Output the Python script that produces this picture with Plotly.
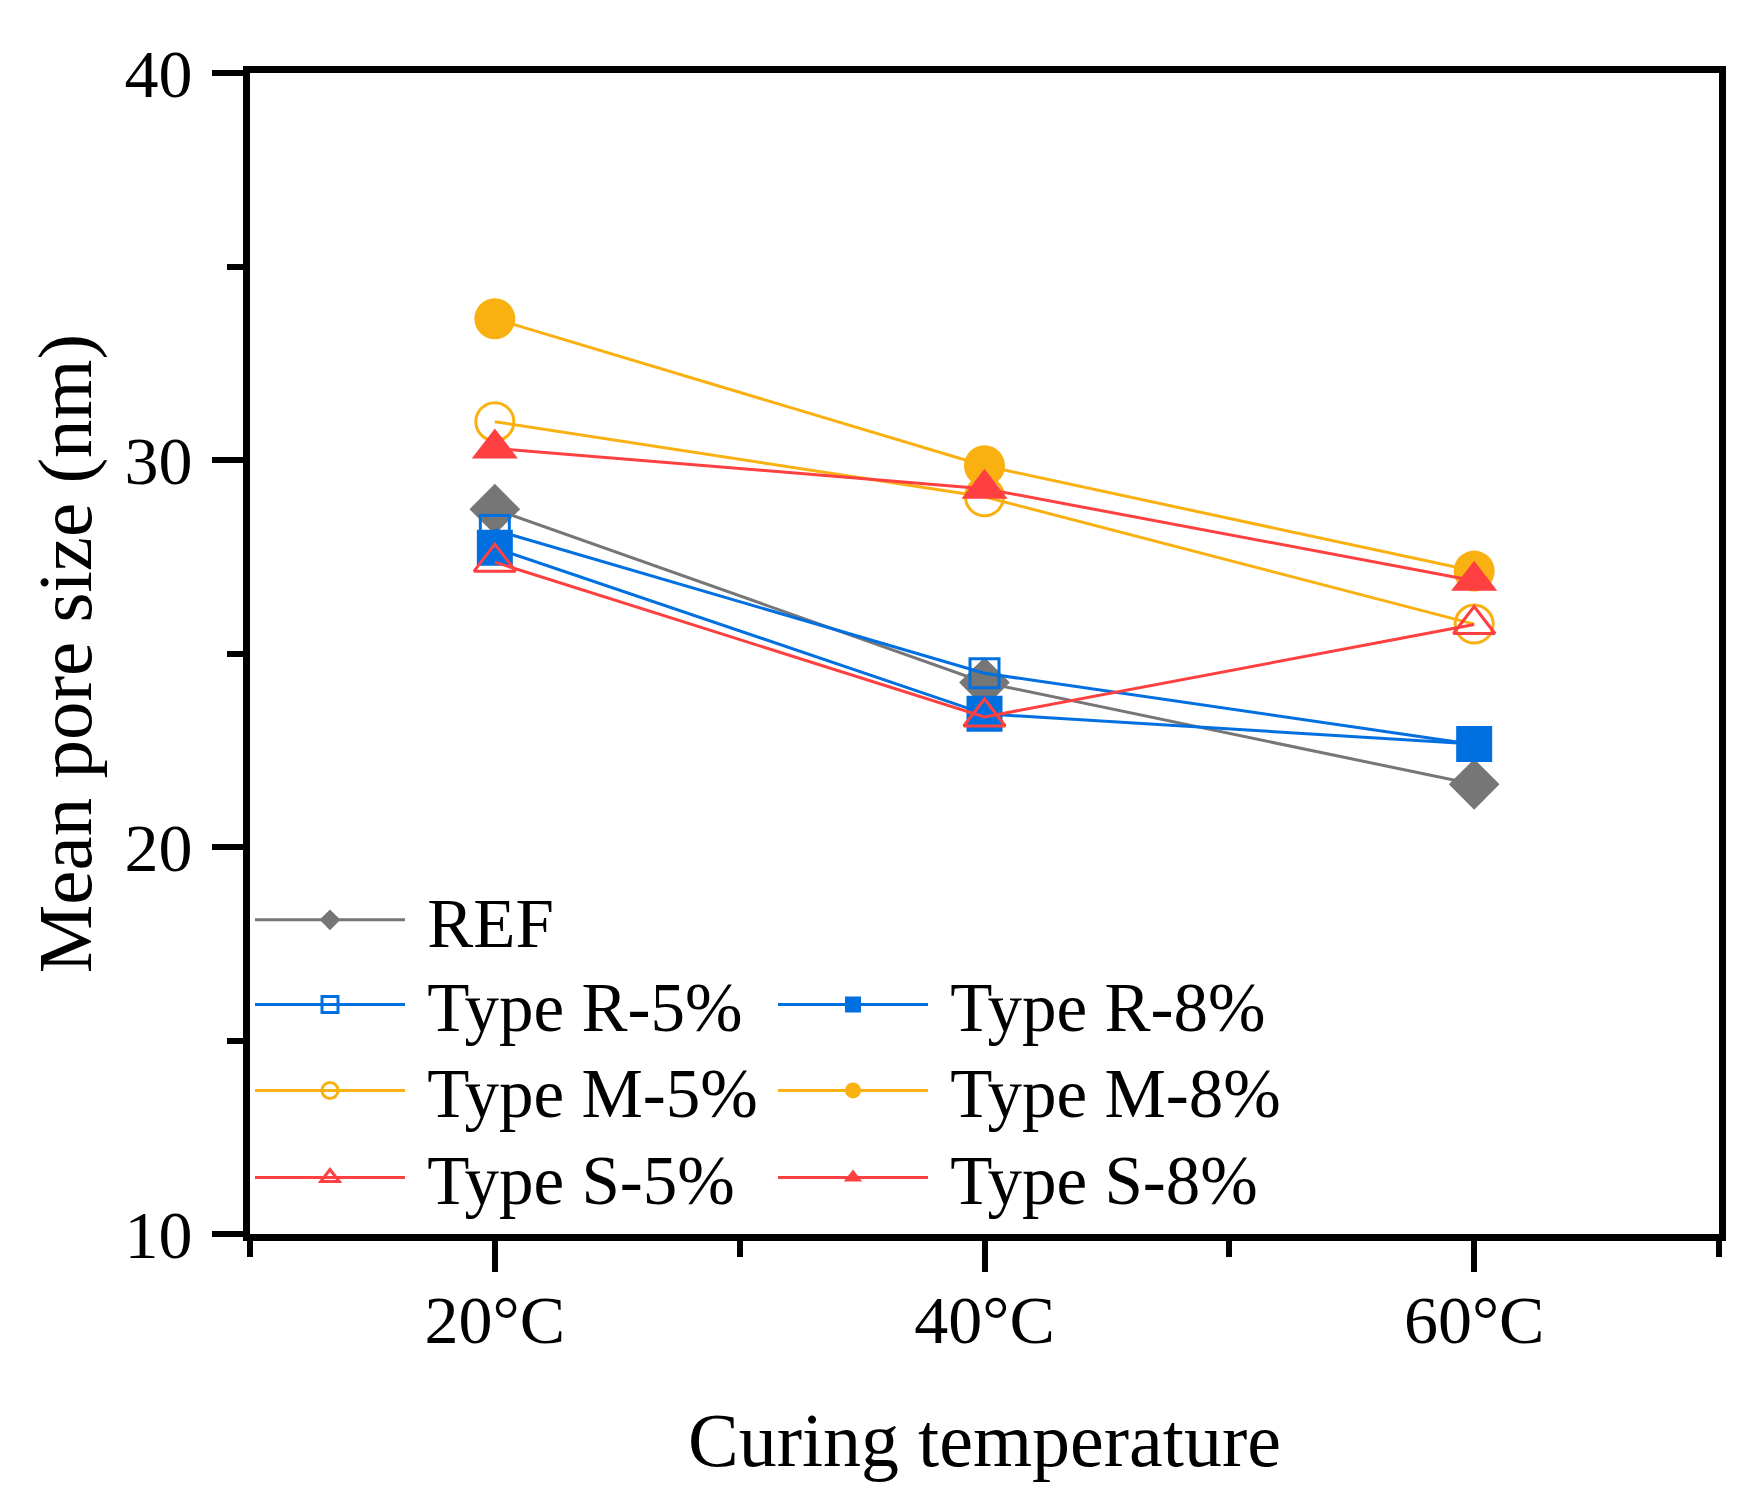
import plotly.graph_objects as go

# curing temperature (°C) and mean pore size (nm)
temps = [20, 40, 60]
temp_labels = ["20°C", "40°C", "60°C"]

ref = [28.73, 24.25, 21.62]
r_5 = [28.19, 24.49, 22.65]
r_8 = [27.73, 23.44, 22.66]
m_5 = [30.99, 29.05, 25.76]
m_8 = [33.65, 29.85, 27.13]
s_5 = [27.36, 23.36, 25.75]
s_8 = [30.30, 29.26, 26.88]

GRAY = "#767676"
BLUE = "#0070e0"
YELLOW = "#f9b011"
RED = "#ff4040"
FONT = "Liberation Serif"
NB = "\u00a0"  # small gap between legend line and text

fig = go.Figure()


def add(name, y, color, symbol, size, legend):
    hollow = symbol.endswith("-open")
    fig.add_trace(go.Scatter(
        x=temps, y=y, name=NB + name, mode="lines+markers",
        line=dict(color=color, width=3),
        marker=dict(symbol=symbol, size=size, color=color,
                    line=dict(color=color, width=3 if hollow else 0)),
        legend=legend, showlegend=True,
    ))


# one legend per row, two columns
add("REF", ref, GRAY, "diamond", 39, "legend")
add("Type R-5%", r_5, BLUE, "square-open", 29, "legend2")
add("Type R-8%", r_8, BLUE, "square", 36, "legend2")
add("Type M-5%", m_5, YELLOW, "circle-open", 38, "legend3")
add("Type M-8%", m_8, YELLOW, "circle", 41, "legend3")
add("Type S-5%", s_5, RED, "triangle-up-open", 36, "legend4")
add("Type S-8%", s_8, RED, "triangle-up", 40, "legend4")

leg = dict(font=dict(family=FONT, size=69, color="black"), bgcolor="rgba(0,0,0,0)",
           itemwidth=150, itemsizing="trace", orientation="h", entrywidth=358,
           x=0.0, xanchor="left", yanchor="middle", visible=True)

fig.update_layout(
    width=1764, height=1502,
    margin=dict(l=242, r=53, t=65, b=276),
    plot_bgcolor="white", paper_bgcolor="white",
    font=dict(family=FONT, color="black"),
    showlegend=True,
    legend=dict(**leg, y=0.2705),
    legend2=dict(**leg, y=0.1975),
    legend3=dict(**leg, y=0.1235),
    legend4=dict(**leg, y=0.0485),
)

fig.update_xaxes(
    range=[10, 70], tickvals=temps, ticktext=temp_labels,
    showline=True, linewidth=7, linecolor="black", mirror=True,
    showgrid=False, zeroline=False,
    ticks="outside", ticklen=31, tickwidth=6, tickcolor="black",
    minor=dict(tick0=10, dtick=20, ticks="outside", ticklen=16, tickwidth=6, tickcolor="black"),
    tickfont=dict(family=FONT, size=68), ticklabelstandoff=-11,
    title=dict(text="Curing temperature", font=dict(family=FONT, size=76), standoff=59),
)
fig.update_yaxes(
    range=[10, 40], tickvals=[10, 20, 30, 40],
    showline=True, linewidth=7, linecolor="black", mirror=True,
    showgrid=False, zeroline=False,
    ticks="outside", ticklen=31, tickwidth=6, tickcolor="black",
    minor=dict(tick0=15, dtick=10, ticks="outside", ticklen=16, tickwidth=6, tickcolor="black"),
    tickfont=dict(family=FONT, size=68), ticklabelstandoff=6,
    title=dict(text="Mean pore size (nm)", font=dict(family=FONT, size=77), standoff=10),
)

fig.write_html("out.html")
